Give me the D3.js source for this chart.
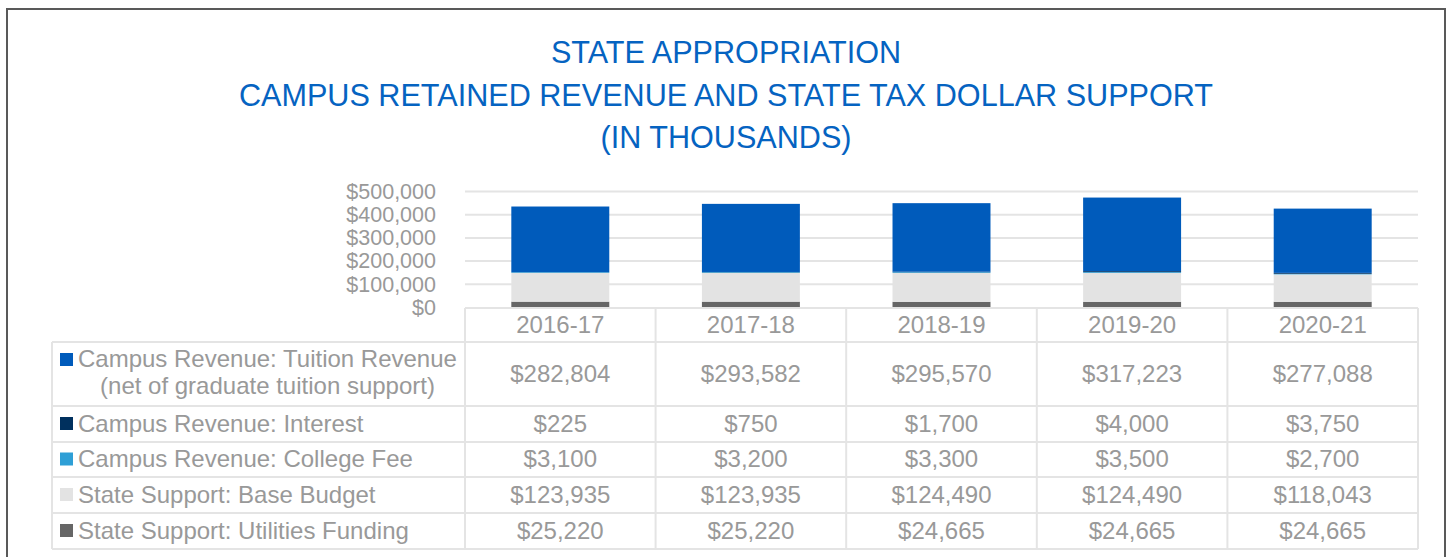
<!DOCTYPE html>
<html>
<head>
<meta charset="utf-8">
<script src="https://cdn.jsdelivr.net/npm/d3@7"></script>
<style>
  body { margin: 0; background: #fff; }
  svg { display: block; font-family: "Liberation Sans", Arial, sans-serif; }
</style>
</head>
<body>
<svg id="chart"></svg>
<script>
// chart data
const years = ['2016-17', '2017-18', '2018-19', '2019-20', '2020-21'];
const tuition = [282804, 293582, 295570, 317223, 277088];
const interest = [225, 750, 1700, 4000, 3750];
const collegeFee = [3100, 3200, 3300, 3500, 2700];
const baseBudget = [123935, 123935, 124490, 124490, 118043];
const utilities = [25220, 25220, 24665, 24665, 24665];
const yTicks = [0, 100000, 200000, 300000, 400000, 500000];
const titleLines = ['STATE APPROPRIATION', 'CAMPUS RETAINED REVENUE AND STATE TAX DOLLAR SUPPORT', '(IN THOUSANDS)'];

// table rows, top to bottom
const series = [
  { key: 'tuition', label: ['Campus Revenue: Tuition Revenue', '(net of graduate tuition support)'], values: tuition, color: '#005BBB' },
  { key: 'interest', label: ['Campus Revenue: Interest'], values: interest, color: '#00305E' },
  { key: 'fee', label: ['Campus Revenue: College Fee'], values: collegeFee, color: '#2E9FD6' },
  { key: 'base', label: ['State Support: Base Budget'], values: baseBudget, color: '#E3E3E3' },
  { key: 'util', label: ['State Support: Utilities Funding'], values: utilities, color: '#666666' }
];

const width = 1448, height = 557;
const textGray = '#999999';
const lineGray = '#E4E4E4';

const svg = d3.select('#chart').attr('width', width).attr('height', height);

// outer frame
svg.append('rect')
  .attr('x', 7).attr('y', 9)
  .attr('width', 1438).attr('height', 560)
  .attr('fill', 'none')
  .attr('stroke', '#595959')
  .attr('stroke-width', 2);

// title
svg.append('g')
  .selectAll('text')
  .data(titleLines)
  .enter().append('text')
  .attr('x', 726)
  .attr('y', (d, i) => 63 + i * 42.5)
  .attr('text-anchor', 'middle')
  .attr('font-size', 30.6)
  .attr('fill', '#0563C1')
  .text(d => d);

// scales
let x = d3.scaleBand()
  .domain(years)
  .range([465, 1418])
  .paddingInner(0.486)
  .paddingOuter(0.243);

let y = d3.scaleLinear()
  .domain([0, 500000])
  .range([307.5, 191.5]);

// gridlines
svg.append('g')
  .selectAll('line')
  .data(yTicks.filter(d => d > 0))
  .enter().append('line')
  .attr('x1', 465).attr('x2', 1418)
  .attr('y1', d => y(d)).attr('y2', d => y(d))
  .attr('stroke', lineGray)
  .attr('stroke-width', 2);

// y axis labels
let axis_y = d3.axisLeft(y)
  .tickValues(yTicks)
  .tickSize(0)
  .tickPadding(0)
  .tickFormat(d => '$' + d3.format(',')(d));
let gy = svg.append('g')
  .attr('transform', 'translate(436,0)')
  .call(axis_y);
gy.select('.domain').remove();
gy.selectAll('text')
  .attr('font-size', 21.5)
  .attr('font-family', '"Liberation Sans", Arial, sans-serif')
  .attr('fill', textGray);

// stacked bars (bottom to top: utilities, base, fee, interest, tuition)
let stackOrder = ['util', 'base', 'fee', 'interest', 'tuition'];
let rows = years.map((yr, i) => {
  let r = { year: yr };
  series.forEach(s => { r[s.key] = s.values[i]; });
  return r;
});
let stacked = d3.stack().keys(stackOrder)(rows);
let colorOf = {};
series.forEach(s => { colorOf[s.key] = s.color; });

svg.append('g')
  .selectAll('g')
  .data(stacked)
  .enter().append('g')
  .attr('fill', d => colorOf[d.key])
  .selectAll('rect')
  .data(d => d)
  .enter().append('rect')
  .attr('x', d => x(d.data.year))
  .attr('width', x.bandwidth())
  .attr('y', d => y(d[1]))
  .attr('height', d => y(d[0]) - y(d[1]));

// data table
let rowLines = [342, 406, 442, 477, 513, 549];
let headerTop = 308;
let colEdges = d3.range(years.length + 1).map(i => x.range()[0] + i * x.step());
let table = svg.append('g')
  .attr('stroke', lineGray)
  .attr('stroke-width', 2);

table.append('line')
  .attr('x1', 465).attr('x2', 1418)
  .attr('y1', headerTop).attr('y2', headerTop);
table.selectAll('.hrow')
  .data(rowLines)
  .enter().append('line')
  .attr('class', 'hrow')
  .attr('x1', 52).attr('x2', 1418)
  .attr('y1', d => d).attr('y2', d => d);
table.append('line')
  .attr('x1', 52).attr('x2', 52)
  .attr('y1', rowLines[0]).attr('y2', rowLines[rowLines.length - 1]);
table.selectAll('.vcol')
  .data(colEdges)
  .enter().append('line')
  .attr('class', 'vcol')
  .attr('x1', d => d).attr('x2', d => d)
  .attr('y1', headerTop).attr('y2', rowLines[rowLines.length - 1]);

// year header
svg.append('g')
  .selectAll('text')
  .data(years)
  .enter().append('text')
  .attr('x', d => x(d) + x.bandwidth() / 2)
  .attr('y', (headerTop + rowLines[0]) / 2 + 8)
  .attr('text-anchor', 'middle')
  .attr('font-size', 24)
  .attr('fill', textGray)
  .text(d => d);

// legend column + values
let fmt = d => '$' + d3.format(',')(d);
series.forEach((s, r) => {
  let top = rowLines[r], bottom = rowLines[r + 1];
  let mid = (top + bottom) / 2;
  let g = svg.append('g');
  if (s.label.length === 1) {
    g.append('rect')
      .attr('x', 60).attr('y', mid - 7)
      .attr('width', 13).attr('height', 13)
      .attr('fill', s.color);
    g.append('text')
      .attr('x', 78).attr('y', mid + 7.5)
      .attr('font-size', 24)
      .attr('fill', textGray)
      .text(s.label[0]);
  } else {
    g.append('rect')
      .attr('x', 60).attr('y', top + 11)
      .attr('width', 13).attr('height', 13)
      .attr('fill', s.color);
    g.append('text')
      .attr('x', 78).attr('y', top + 25)
      .attr('font-size', 24)
      .attr('fill', textGray)
      .text(s.label[0]);
    g.append('text')
      .attr('x', 267.5).attr('y', top + 52)
      .attr('text-anchor', 'middle')
      .attr('font-size', 24)
      .attr('fill', textGray)
      .text(s.label[1]);
  }
  g.selectAll('.val')
    .data(s.values)
    .enter().append('text')
    .attr('class', 'val')
    .attr('x', (d, i) => x(years[i]) + x.bandwidth() / 2)
    .attr('y', mid + 7.5)
    .attr('text-anchor', 'middle')
    .attr('font-size', 24)
    .attr('fill', textGray)
    .text(fmt);
});
</script>
</body>
</html>
